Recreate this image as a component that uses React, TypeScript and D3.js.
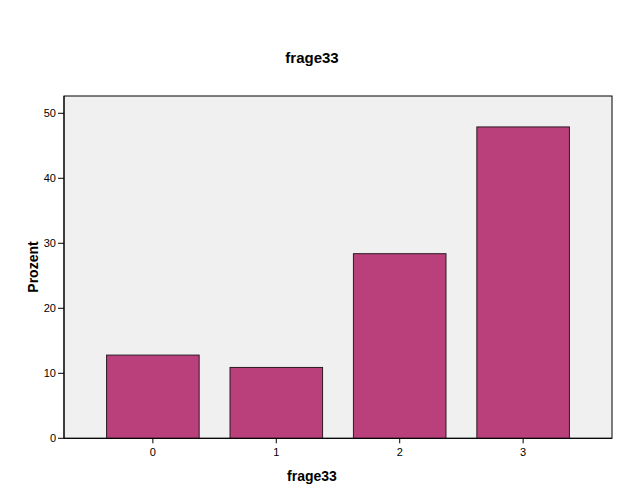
import React from "react";
import * as d3 from "d3";

const categories = ["0", "1", "2", "3"];
const values = [12.8, 10.9, 28.4, 47.9];
const yTicks = [0, 10, 20, 30, 40, 50];

export default function App() {
  const W = 625, H = 500;
  const left = 64, right = 612, top = 96, bottom = 438.3;
  const x = d3.scaleBand<string>().domain(categories).range([left, right]).paddingOuter(0.22).paddingInner(0).align(0.5);
  // band width adjust: compute to match centres
  const y = d3.scaleLinear().domain([0, 52.66]).range([bottom, top]);
  const bw = x.bandwidth();
  const barW = bw * 0.75;
  const font = "Arial, 'Liberation Sans', sans-serif";
  return (
    <svg width={W} height={H} style={{ position: "absolute", left: 0, top: 0, background: "#fff" }} fontFamily={font}>
      <rect x={0} y={0} width={W} height={H} fill="#fff" />
      <text x={312} y={63} textAnchor="middle" fontSize={15} fontWeight="bold" fill="#000">frage33</text>
      <rect x={left} y={top} width={right - left} height={bottom - top} fill="#F0F0F0" stroke="#000" strokeWidth={1} />
      {categories.map((c, i) => (
        <rect key={c} x={(x(c) as number) + (bw - barW) / 2} y={y(values[i])} width={barW} height={bottom - y(values[i])}
          fill="#BA407C" stroke="#2a1a22" strokeWidth={1} />
      ))}
      <line x1={left} x2={right} y1={bottom} y2={bottom} stroke="#000" />
      <line x1={left} x2={left} y1={top} y2={bottom} stroke="#000" />
      {yTicks.map(t => (
        <g key={t}>
          <line x1={left - 6} x2={left} y1={y(t)} y2={y(t)} stroke="#000" />
          <text x={left - 8} y={y(t)} dy="0.35em" textAnchor="end" fontSize={11} fill="#000">{t}</text>
        </g>
      ))}
      {categories.map(c => {
        const cx = (x(c) as number) + bw / 2;
        return (
          <g key={c}>
            <line x1={cx} x2={cx} y1={bottom} y2={bottom + 5} stroke="#000" />
            <text x={cx} y={bottom + 18} textAnchor="middle" fontSize={11} fill="#000">{c}</text>
          </g>
        );
      })}
      <text x={312} y={481} textAnchor="middle" fontSize={14} fontWeight="bold" fill="#000">frage33</text>
      <text transform={`translate(38,${267}) rotate(-90)`} textAnchor="middle" fontSize={14} fontWeight="bold" fill="#000">Prozent</text>
    </svg>
  );
}
